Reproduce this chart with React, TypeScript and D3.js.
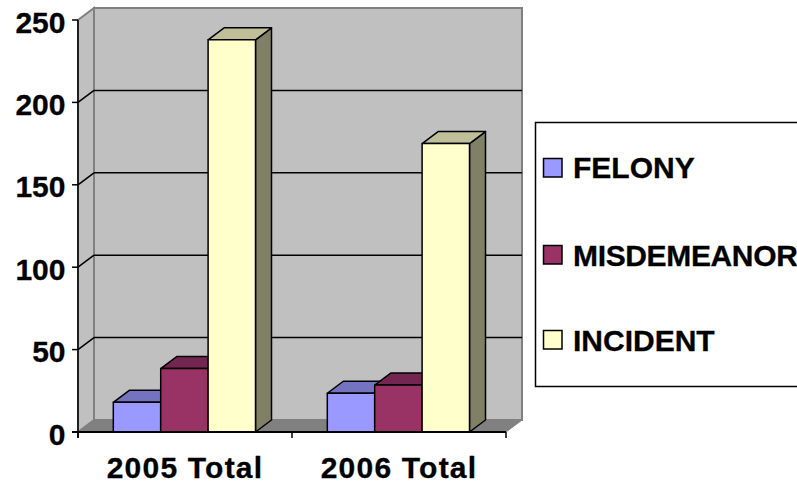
import React from "react";
import * as d3 from "d3";

const categories = ["2005 Total", "2006 Total"];
const seriesNames = ["FELONY", "MISDEMEANOR", "INCIDENT"];
const felony = [18, 23.5];
const misdemeanor = [38.5, 28.5];
const incident = [238, 175];
const yTicks = [0, 50, 100, 150, 200, 250];
const faceColors = ["#9999ff", "#993366", "#ffffcc"];
const topColors = ["#7373bf", "#732650", "#bfbf99"];
const sideColors = ["#4d4d80", "#4d1a33", "#808066"];

const DX = 16;
const DY = 12;
const FONT = "'Liberation Sans', Arial, sans-serif";

export default function App() {
  const series = [felony, misdemeanor, incident];
  const y = d3.scaleLinear().domain([0, 250]).range([432, 20]);
  const xBand = d3.scaleBand<string>().domain(categories).range([78, 506]).paddingInner(0).paddingOuter(0);
  const bw = xBand.bandwidth();
  const x1 = d3.scaleBand<number>().domain([0, 1, 2]).range([35.3, bw - 36.5]);
  const w = x1.bandwidth();
  const x0 = 78, xEnd = 506, y0 = y(0), yTop = y(250);
  const poly = (pts: number[][]) => pts.map((p) => p.join(",")).join(" ");
  const textProps = { fontFamily: FONT, fontWeight: "bold", fontSize: 30, stroke: "#000", strokeWidth: 0.3 };
  const legendY = [167.5, 254.5, 339.5];
  const legendBase = [178, 266, 351];
  return (
    <svg width={797} height={484} style={{ position: "absolute", left: 0, top: 0, display: "block" }}>
      <rect width={797} height={484} fill="#fff" />
      {/* walls */}
      <polygon points={poly([[x0, y0], [x0 + DX, y0 - DY], [x0 + DX, yTop - DY], [x0, yTop]])} fill="#c0c0c0" stroke="#808080" strokeWidth={2} />
      <rect x={x0 + DX} y={yTop - DY} width={xEnd - x0} height={y0 - yTop} fill="#c0c0c0" stroke="#808080" strokeWidth={2} />
      <polygon points={poly([[x0, y0], [xEnd, y0], [xEnd + DX, y0 - DY], [x0 + DX, y0 - DY]])} fill="#808080" stroke="#808080" />
      {/* gridlines */}
      {yTicks.slice(1, -1).map((t) => (
        <g key={t} stroke="#000" strokeWidth={1.5} fill="none">
          <line x1={x0 + DX} x2={xEnd + DX} y1={y(t) - DY} y2={y(t) - DY} />
          <line x1={x0} x2={x0 + DX} y1={y(t)} y2={y(t) - DY} />
        </g>
      ))}
      {/* bars */}
      {categories.map((c, ci) =>
        series.map((vals, si) => {
          const l = xBand(c)! + x1(si)!;
          const r = l + w;
          const t = y(vals[ci]);
          return (
            <g key={c + si} stroke="#000" strokeWidth={1.5} strokeLinejoin="round">
              <polygon points={poly([[r, y0], [r + DX, y0 - DY], [r + DX, t - DY], [r, t]])} fill={sideColors[si]} />
              <polygon points={poly([[l, t], [l + DX, t - DY], [r + DX, t - DY], [r, t]])} fill={topColors[si]} />
              <rect x={l} y={t} width={w} height={y0 - t} fill={faceColors[si]} />
            </g>
          );
        })
      )}
      {/* axes */}
      <line x1={x0} x2={x0} y1={yTop} y2={y0 + 6} stroke="#000" strokeWidth={1.5} />
      <line x1={x0 - 6} x2={xEnd} y1={y0} y2={y0} stroke="#000" strokeWidth={2} />
      {yTicks.map((t) => (
        <g key={t}>
          <line x1={x0 - 6} x2={x0} y1={y(t)} y2={y(t)} stroke="#000" strokeWidth={1.5} />
          <text x={65.5} y={y(t) + 12.5} textAnchor="end" {...textProps}>{t}</text>
        </g>
      ))}
      {[0, 1, 2].map((i) => (
        <line key={i} x1={x0 + i * bw} x2={x0 + i * bw} y1={y0} y2={y0 + 6} stroke="#000" strokeWidth={1.5} />
      ))}
      {categories.map((c) => (
        <text key={c} x={xBand(c)! + bw / 2} y={478} textAnchor="middle" letterSpacing={1.2} {...textProps}>{c}</text>
      ))}
      {/* legend */}
      <rect x={535.5} y={122.5} width={270} height={264} fill="#fff" stroke="#000" strokeWidth={1.5} />
      {seriesNames.map((s, i) => (
        <g key={s}>
          <rect x={543.5} y={legendY[i] - 9} width={18.5} height={18.5} fill={faceColors[i]} stroke="#000" strokeWidth={1.5} />
          <text x={573} y={legendBase[i]} letterSpacing={i === 1 ? -0.35 : 0} {...textProps}>{s}</text>
        </g>
      ))}
    </svg>
  );
}
